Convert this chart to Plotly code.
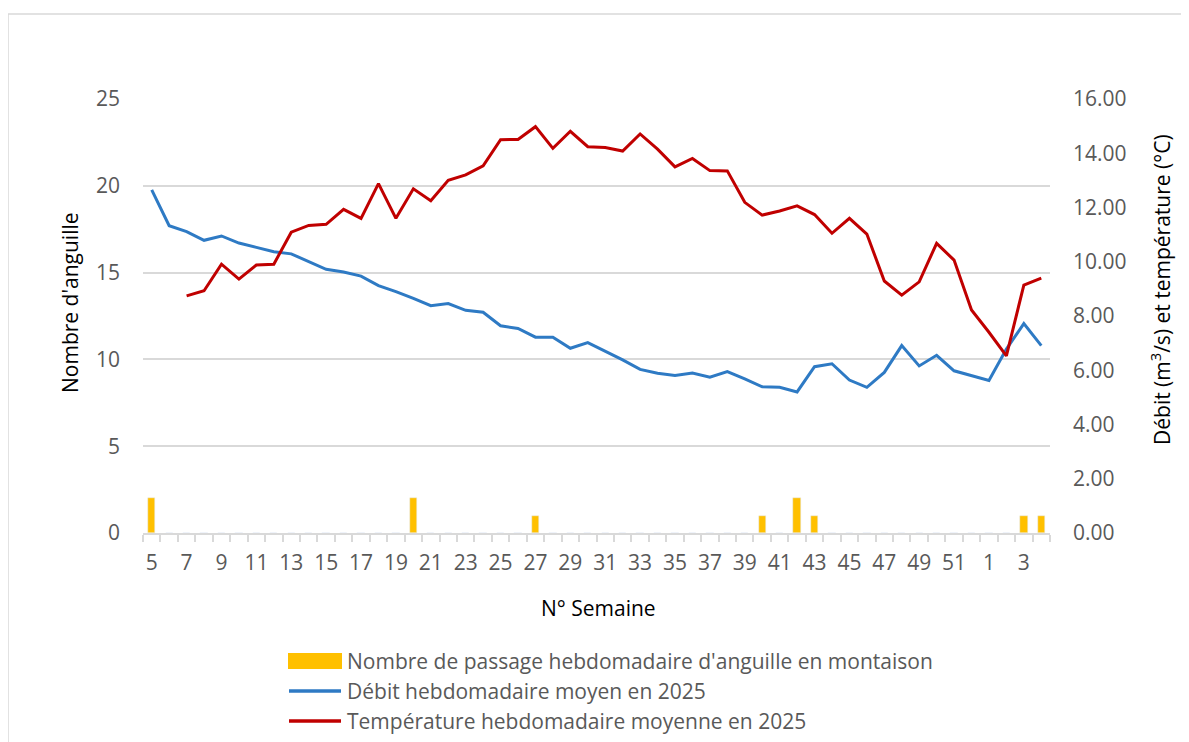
import plotly.graph_objects as go

# ---- data ----
weeks = [str(w) for w in list(range(5, 53)) + [1, 2, 3, 4]]

passages = [2, 0, 0, 0, 0, 0, 0, 0, 0, 0, 0, 0, 0, 0, 0, 2, 0, 0, 0, 0, 0, 0, 1, 0, 0, 0,
            0, 0, 0, 0, 0, 0, 0, 0, 0, 1, 0, 2, 1, 0, 0, 0, 0, 0, 0, 0, 0, 0, 0, 0, 1, 1]

debit = [12.65, 11.33, 11.11, 10.79, 10.95, 10.69, 10.53, 10.37, 10.29, 10.00,
         9.72, 9.62, 9.47, 9.12, 8.90, 8.65, 8.38, 8.46, 8.21, 8.14,
         7.64, 7.54, 7.22, 7.22, 6.81, 7.02, 6.71, 6.38, 6.03, 5.89,
         5.81, 5.90, 5.74, 5.95, 5.68, 5.39, 5.37, 5.20, 6.13, 6.24,
         5.64, 5.37, 5.92, 6.91, 6.16, 6.55, 5.98, 5.80, 5.62, 6.78,
         7.72, 6.91]

temperature = [None, None, 8.74, 8.93, 9.91, 9.36, 9.88, 9.91, 11.09, 11.34,
               11.38, 11.93, 11.60, 12.88, 11.60, 12.69, 12.25, 13.00, 13.20, 13.54,
               14.50, 14.51, 14.98, 14.18, 14.81, 14.24, 14.21, 14.08, 14.71, 14.15,
               13.50, 13.81, 13.36, 13.35, 12.19, 11.72, 11.87, 12.06, 11.74, 11.05,
               11.60, 11.02, 9.29, 8.77, 9.26, 10.68, 10.06, 8.22, 7.40, 6.53,
               9.14, 9.40]

left_ticks = [0, 5, 10, 15, 20, 25]
right_ticks = [0, 2, 4, 6, 8, 10, 12, 14, 16]

names = ["Nombre de passage hebdomadaire d'anguille en montaison",
         "Débit hebdomadaire moyen en 2025",
         "Température hebdomadaire moyenne en 2025"]

C_BAR = "#FFC000"
C_BLUE = "#2E7AC4"
C_RED = "#C00000"
GRID = "#D9D9D9"
TXT = "#595959"
FONT = "Open Sans"
FS = 21

idx = list(range(len(weeks)))

fig = go.Figure()
fig.add_trace(go.Bar(x=idx, y=passages, name=names[0], marker_color=C_BAR,
                     width=0.42, yaxis="y", showlegend=False))
fig.add_trace(go.Scatter(x=idx, y=debit, name=names[1], mode="lines",
                         line=dict(color=C_BLUE, width=3), yaxis="y2", showlegend=False))
fig.add_trace(go.Scatter(x=idx, y=temperature, name=names[2], mode="lines",
                         line=dict(color=C_RED, width=3), yaxis="y2", showlegend=False,
                         connectgaps=False))

# page body has an 8px margin: figure occupies (8,8) -> (1189,742)
OFF = 8
W, H = 1189 - OFF, 742 - OFF
L, R, T, B = 143 - OFF, 1050 - OFF, 99 - OFF, 533 - OFF
pw, ph = R - L, B - T

def px(x):
    return (x - OFF - L) / pw

def py(y):
    return (B - (y - OFF)) / ph

fig.update_layout(
    width=W, height=H,
    margin=dict(l=L, r=W - R, t=T, b=H - B),
    paper_bgcolor="white", plot_bgcolor="white",
    font=dict(family=FONT, size=FS, color=TXT),
    bargap=0,
    xaxis=dict(range=[-0.5, len(weeks) - 0.5], tickvals=idx[::2], ticktext=weeks[::2],
               ticks="", showline=True, linecolor=GRID, linewidth=1.5, showgrid=False,
               zeroline=False, tickfont=dict(size=FS, color=TXT), tickangle=0,
               ticklabelstandoff=10,
               minor=dict(tick0=-0.5, dtick=1, ticks="outside", ticklen=7,
                          tickcolor=GRID, tickwidth=1.5, showgrid=False)),
    yaxis=dict(range=[0, 25], tickvals=left_ticks, showgrid=True, gridcolor=GRID,
               gridwidth=1.5, zeroline=False, showline=False, ticks="",
               tickfont=dict(size=FS, color=TXT), ticklabelstandoff=22),
    yaxis2=dict(range=[0, 16], tickvals=right_ticks, tickformat=".2f",
                overlaying="y", side="right", showgrid=False, zeroline=False,
                showline=False, ticks="", tickfont=dict(size=FS, color=TXT),
                ticklabelstandoff=22),
)

annotations = [
    dict(text="Nombre d'anguille", x=px(70), y=py(303), xref="paper", yref="paper",
         textangle=-90, showarrow=False, font=dict(size=FS, color="black"),
         xanchor="center", yanchor="middle"),
    dict(text="Débit (m<sup>3</sup>/s) et température (°C)", x=px(1160), y=py(290),
         xref="paper", yref="paper", textangle=-90, showarrow=False,
         font=dict(size=FS, color="black"), xanchor="center", yanchor="middle"),
    dict(text="N° Semaine", x=px(598), y=py(608), xref="paper", yref="paper",
         showarrow=False, font=dict(size=FS, color="black"),
         xanchor="center", yanchor="middle"),
]
legend_rows = [661, 691, 721]
for name, yy in zip(names, legend_rows):
    annotations.append(dict(text=name, x=px(345), y=py(yy), xref="paper", yref="paper",
                            showarrow=False, xanchor="left", yanchor="middle",
                            font=dict(size=FS, color=TXT)))

shapes = [
    # chart frame
    dict(type="rect", xref="paper", yref="paper", x0=px(8), x1=px(1200),
         y0=py(760), y1=py(14), line=dict(color=GRID, width=1.5),
         fillcolor="rgba(0,0,0,0)", layer="below"),
    # legend swatches
    dict(type="rect", xref="paper", yref="paper", x0=px(288), x1=px(342),
         y0=py(669), y1=py(653), fillcolor=C_BAR, line=dict(width=0)),
    dict(type="line", xref="paper", yref="paper", x0=px(289), x1=px(341),
         y0=py(691), y1=py(691), line=dict(color=C_BLUE, width=3.5)),
    dict(type="line", xref="paper", yref="paper", x0=px(289), x1=px(341),
         y0=py(721), y1=py(721), line=dict(color=C_RED, width=3.5)),
]

fig.update_layout(annotations=annotations, shapes=shapes)

fig.write_html("out.html")
